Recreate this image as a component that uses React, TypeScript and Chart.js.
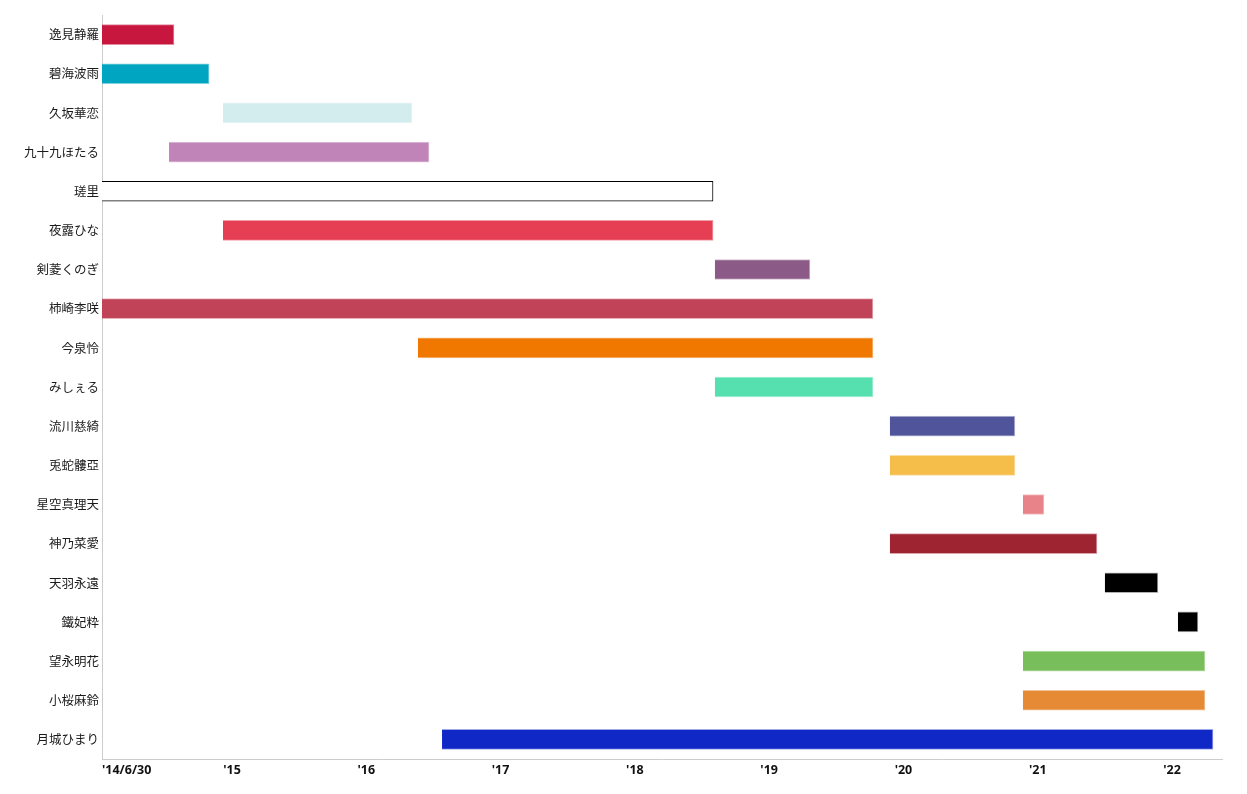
import React, { useEffect, useRef } from "react";
import { Chart, registerables } from "chart.js";

Chart.register(...registerables);

const names = [
  "逸見静羅", "碧海波雨", "久坂華恋", "九十九ほたる", "瑳里", "夜露ひな", "剣菱くのぎ",
  "柿崎李咲", "今泉怜", "みしぇる", "流川慈綺", "兎蛇髏亞", "星空真理天", "神乃菜愛",
  "天羽永遠", "鐵妃粋", "望永明花", "小桜麻鈴", "月城ひまり",
];

// start / end as decimal years
const starts = [
  2014.032, 2014.032, 2014.933, 2014.531, 2014.032, 2014.933, 2018.596,
  2014.032, 2016.385, 2018.596, 2019.899, 2019.899, 2020.89, 2019.899,
  2021.5, 2022.044, 2020.89, 2020.89, 2016.564,
];
const ends = [
  2014.568, 2014.829, 2016.34, 2016.467, 2018.582, 2018.582, 2019.304,
  2019.773, 2019.773, 2019.773, 2020.83, 2020.83, 2021.046, 2021.441,
  2021.895, 2022.193, 2022.245, 2022.245, 2022.305,
];

const fillColors = [
  "#C8173F", "#00A6C1", "#D3ECEE", "#C084B9", "#FFFFFF", "#E63E52", "#8B5A87",
  "#C04358", "#F07800", "#56E0B0", "#50549A", "#F5BD4A", "#E8838A", "#9E2432",
  "#000000", "#000000", "#78BE5A", "#E68A35", "#1029C6",
];
const edgeColors = [
  "rgba(200,23,63,0.5)", "rgba(0,166,193,0.5)", "rgba(211,236,238,0.5)", "rgba(192,132,185,0.5)",
  "#000000", "rgba(230,62,82,0.5)", "rgba(139,90,135,0.4)", "rgba(192,67,88,0.4)",
  "rgba(240,120,0,0.5)", "rgba(86,224,176,0.5)", "rgba(80,84,154,0.4)", "rgba(245,189,74,0.5)",
  "rgba(232,131,138,0.5)", "rgba(158,36,50,0.4)", "rgba(0,0,0,0.3)", "rgba(0,0,0,0.3)",
  "rgba(120,190,90,0.5)", "rgba(230,138,53,0.5)", "rgba(16,41,198,0.4)",
];

const axisMin = 2014.032;
const axisMax = 2022.372;
const yearTicks = [2015, 2016, 2017, 2018, 2019, 2020, 2021, 2022];
const firstTickLabel = "'14/6/30";

export default function App() {
  const ref = useRef<HTMLCanvasElement | null>(null);

  useEffect(() => {
    if (!ref.current) return;
    const data = names.map((_, i) => [starts[i], ends[i]]);
    const chart = new Chart(ref.current, {
      type: "bar",
      data: {
        labels: names,
        datasets: [
          {
            data: data as any,
            backgroundColor: fillColors,
            borderColor: edgeColors,
            borderWidth: 1,
            barThickness: 20,
          },
        ],
      },
      options: {
        indexAxis: "y",
        animation: false,
        responsive: true,
        maintainAspectRatio: false,
        layout: { padding: { top: 7, right: 17, left: 0, bottom: 0 } },
        plugins: { legend: { display: false }, tooltip: { enabled: false } },
        scales: {
          x: {
            type: "linear",
            min: axisMin,
            max: axisMax,
            afterBuildTicks: (scale: any) => {
              scale.ticks = [axisMin, ...yearTicks, axisMax].map((v) => ({ value: v }));
            },
            afterFit: (scale: any) => {
              scale.height = 27;
              scale.paddingLeft = 0;
              scale.paddingRight = 0;
            },
            grid: { display: false, drawTicks: false },
            border: { display: true, color: "#cccccc", width: 1 },
            ticks: {
              align: "inner",
              maxRotation: 0,
              autoSkip: false,
              padding: 4,
              color: "#111111",
              font: { family: "'Open Sans', 'Noto Sans', sans-serif", size: 12.5, weight: "bold" },
              callback: (v: any) => {
                if (v === axisMin) return firstTickLabel;
                if (v === axisMax) return "";
                return "'" + String(v).slice(2);
              },
            },
          },
          y: {
            type: "category",
            afterFit: (scale: any) => {
              scale.width = 94;
              scale.paddingTop = 0;
              scale.paddingBottom = 0;
            },
            grid: { display: false, drawTicks: false },
            border: { display: true, color: "#cccccc", width: 1 },
            ticks: {
              padding: 3,
              color: "#1a1a1a",
              font: { family: "'Noto Sans CJK JP', sans-serif", size: 12.5 },
            },
          },
        },
      },
    });
    return () => chart.destroy();
  }, []);

  return (
    <div style={{ width: 1231, height: 778, position: "relative" }}>
      <canvas ref={ref} />
    </div>
  );
}
